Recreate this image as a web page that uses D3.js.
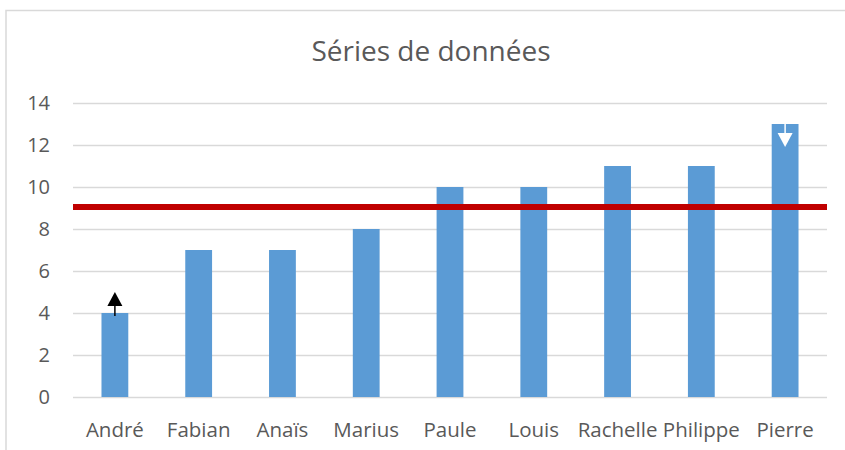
<!DOCTYPE html>
<html>
<head>
    <meta charset="utf-8">
    <script src="https://d3js.org/d3.v7.min.js"></script>
    <style>
        body { margin: 0; background: #fff; }
        text { font-family: "Open Sans", sans-serif; fill: #595959; }
        .grid line { stroke: #d9d9d9; stroke-width: 1.3px; }
    </style>
</head>
<body>
    <svg id="chart" width="845" height="450"></svg>

    <script>
        var names = ["André", "Fabian", "Anaïs", "Marius", "Paule", "Louis", "Rachelle", "Philippe", "Pierre"];
        var scores = [4, 7, 7, 8, 10, 10, 11, 11, 13];
        var yTicks = [0, 2, 4, 6, 8, 10, 12, 14];
        var title = "Séries de données";

        var svg = d3.select("#chart");

        var margin = { left: 73, right: 18, top: 103, bottom: 53 };
        var width = 845, height = 450;

        // chart frame
        svg.append("path")
            .attr("d", "M6,450 V10.5 H845")
            .attr("fill", "none")
            .attr("stroke", "#d9d9d9")
            .attr("stroke-width", 1.5);

        var x = d3.scaleBand()
            .domain(names)
            .range([margin.left, width - margin.right])
            .paddingInner(0.68)
            .paddingOuter(0.34);

        var y = d3.scaleLinear()
            .domain([0, 14])
            .range([height - margin.bottom, margin.top]);

        // gridlines
        svg.append("g")
            .attr("class", "grid")
            .selectAll("line")
            .data(yTicks)
            .enter().append("line")
            .attr("x1", margin.left)
            .attr("x2", width - margin.right)
            .attr("y1", function (d) { return Math.round(y(d)) + 0.5; })
            .attr("y2", function (d) { return Math.round(y(d)) + 0.5; });

        // y labels
        svg.append("g")
            .selectAll("text")
            .data(yTicks)
            .enter().append("text")
            .attr("x", 50)
            .attr("y", function (d) { return y(d); })
            .attr("dy", "0.36em")
            .attr("text-anchor", "end")
            .attr("font-size", 20)
            .text(function (d) { return d; });

        // bars
        svg.append("g")
            .selectAll("rect")
            .data(scores)
            .enter().append("rect")
            .attr("x", function (d, i) { return x(names[i]); })
            .attr("width", x.bandwidth())
            .attr("y", function (d) { return y(d); })
            .attr("height", function (d) { return y(0) - y(d); })
            .attr("fill", "#5b9bd5");

        // x labels
        svg.append("g")
            .selectAll("text")
            .data(names)
            .enter().append("text")
            .attr("x", function (d) { return x(d) + x.bandwidth() / 2; })
            .attr("y", 437)
            .attr("text-anchor", "middle")
            .attr("font-size", 20.5)
            .text(function (d) { return d; });

        // average line
        var avg = d3.mean(scores);
        svg.append("line")
            .attr("x1", margin.left)
            .attr("x2", width - margin.right)
            .attr("y1", y(avg) - 1)
            .attr("y2", y(avg) - 1)
            .attr("stroke", "#c00000")
            .attr("stroke-width", 6);

        // arrows on min and max
        function arrow(name, value, dir, color) {
            var cx = x(name) + x.bandwidth() / 2;
            var y0 = y(value);
            var stem = 11, head = 14, hw = 7.5;
            var g = svg.append("g");
            if (dir < 0) {
                // pointing up, sits above the bar
                g.append("line")
                    .attr("x1", cx).attr("x2", cx)
                    .attr("y1", y0 + 3).attr("y2", y0 - stem)
                    .attr("stroke", color).attr("stroke-width", 1.5);
                g.append("path")
                    .attr("d", "M" + (cx - hw) + "," + (y0 - 7) + " L" + cx + "," + (y0 - 7 - head) + " L" + (cx + hw) + "," + (y0 - 7) + "Z")
                    .attr("fill", color);
            } else {
                // pointing down, inside the bar
                g.append("line")
                    .attr("x1", cx).attr("x2", cx)
                    .attr("y1", y0).attr("y2", y0 + stem)
                    .attr("stroke", color).attr("stroke-width", 1.5);
                g.append("path")
                    .attr("d", "M" + (cx - hw) + "," + (y0 + 9) + " L" + cx + "," + (y0 + 9 + head) + " L" + (cx + hw) + "," + (y0 + 9) + "Z")
                    .attr("fill", color);
            }
        }

        var iMin = d3.minIndex(scores), iMax = d3.maxIndex(scores);
        arrow(names[iMin], scores[iMin], -1, "#000");
        arrow(names[iMax], scores[iMax], 1, "#fff");

        // title
        svg.append("text")
            .attr("x", 431)
            .attr("y", 61)
            .attr("text-anchor", "middle")
            .attr("font-size", 28)
            .text(title);
    </script>
</body>
</html>
